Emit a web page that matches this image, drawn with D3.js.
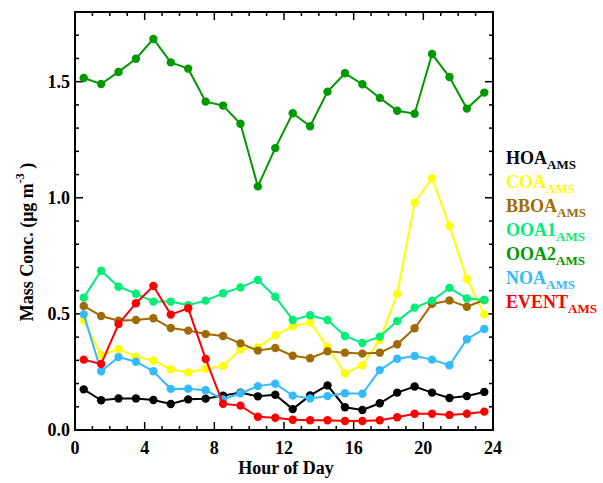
<!DOCTYPE html>
<html>
<head>
<meta charset="utf-8">
<script src="https://cdn.jsdelivr.net/npm/d3@7"></script>
<style>
  body { margin: 0; background: #fff; }
  svg text { font-family: "Liberation Serif", "Times New Roman", serif; font-weight: bold; }
</style>
</head>
<body>
<div id="chart"></div>
<script>
// diurnal profiles, hourly means at hour + 0.5
var hours = d3.range(24).map(function (h) { return h + 0.5; });

var seriesNames = ['HOA', 'COA', 'BBOA', 'OOA1', 'OOA2', 'NOA', 'EVENT'];
var seriesColors = ['#000000', '#ffff00', '#a06a00', '#00ee77', '#009900', '#33bbff', '#ff0000'];

var hoa = [0.175, 0.128, 0.136, 0.136, 0.129, 0.112, 0.132, 0.135, 0.148, 0.161, 0.145, 0.152,
           0.090, 0.149, 0.192, 0.098, 0.086, 0.115, 0.161, 0.187, 0.161, 0.138, 0.146, 0.164];
var coa = [0.472, 0.323, 0.349, 0.316, 0.299, 0.261, 0.248, 0.264, 0.276, 0.347, 0.356, 0.408,
           0.447, 0.464, 0.357, 0.244, 0.279, 0.389, 0.586, 0.979, 1.084, 0.879, 0.650, 0.498];
var bboa = [0.534, 0.491, 0.471, 0.474, 0.481, 0.439, 0.428, 0.413, 0.405, 0.373, 0.342, 0.353,
            0.320, 0.309, 0.339, 0.333, 0.329, 0.333, 0.369, 0.438, 0.543, 0.558, 0.531, 0.560];
var ooa1 = [0.570, 0.686, 0.617, 0.587, 0.553, 0.553, 0.537, 0.557, 0.589, 0.614, 0.646, 0.574,
            0.474, 0.494, 0.474, 0.405, 0.375, 0.402, 0.469, 0.527, 0.557, 0.612, 0.566, 0.560];
var ooa2 = [1.516, 1.490, 1.542, 1.599, 1.684, 1.583, 1.556, 1.414, 1.397, 1.319, 1.049, 1.214,
            1.364, 1.308, 1.457, 1.536, 1.489, 1.430, 1.375, 1.362, 1.619, 1.520, 1.384, 1.453];
var noa = [0.498, 0.253, 0.314, 0.294, 0.253, 0.177, 0.178, 0.171, 0.132, 0.158, 0.189, 0.199,
           0.148, 0.136, 0.146, 0.158, 0.156, 0.258, 0.307, 0.319, 0.303, 0.279, 0.391, 0.435];
var eventAms = [0.303, 0.284, 0.456, 0.546, 0.620, 0.497, 0.524, 0.306, 0.113, 0.105, 0.057, 0.053,
                0.044, 0.042, 0.042, 0.039, 0.039, 0.042, 0.055, 0.070, 0.070, 0.065, 0.070, 0.079];

var xTicks = [0, 4, 8, 12, 16, 20, 24];
var yTicks = [0.0, 0.5, 1.0, 1.5];

var allValues = [hoa, coa, bboa, ooa1, ooa2, noa, eventAms];

var width = 603, height = 483;
var margin = { left: 75, right: 110, top: 12, bottom: 53 };

var svg = d3.select('#chart').append('svg')
  .attr('width', width)
  .attr('height', height);

var x = d3.scaleLinear().domain([0, 24]).range([margin.left, width - margin.right]);
var y = d3.scaleLinear().domain([0, 1.8]).range([height - margin.bottom, margin.top]);

var x0 = x.range()[0], x1 = x.range()[1];
var y0 = y.range()[0], y1 = y.range()[1];

// inward ticks on all four sides
var tickG = svg.append('g').attr('stroke', '#000').attr('stroke-width', 1.5);
d3.range(0, 25, 1).forEach(function (h) {
  var len = h % 4 === 0 ? 8 : 4;
  tickG.append('line').attr('x1', x(h)).attr('x2', x(h)).attr('y1', y0).attr('y2', y0 - len);
  tickG.append('line').attr('x1', x(h)).attr('x2', x(h)).attr('y1', y1).attr('y2', y1 + len);
});
d3.range(0, 19, 1).forEach(function (i) {
  var v = i / 10;
  var len = i % 5 === 0 ? 8 : 4;
  tickG.append('line').attr('x1', x0).attr('x2', x0 + len).attr('y1', y(v)).attr('y2', y(v));
  tickG.append('line').attr('x1', x1).attr('x2', x1 - len).attr('y1', y(v)).attr('y2', y(v));
});

svg.append('rect')
  .attr('x', x0).attr('y', y1)
  .attr('width', x1 - x0).attr('height', y0 - y1)
  .attr('fill', 'none').attr('stroke', '#000').attr('stroke-width', 2);

svg.append('g').selectAll('text').data(xTicks).enter().append('text')
  .attr('x', function (d) { return x(d); })
  .attr('y', y0 + 24)
  .attr('text-anchor', 'middle')
  .attr('font-size', 18)
  .text(function (d) { return d; });

svg.append('g').selectAll('text').data(yTicks).enter().append('text')
  .attr('x', x0 - 5)
  .attr('y', function (d) { return y(d) + 6; })
  .attr('text-anchor', 'end')
  .attr('font-size', 18)
  .text(function (d) { return d.toFixed(1); });

svg.append('text')
  .attr('x', (x0 + x1) / 2 + 2)
  .attr('y', 474)
  .attr('text-anchor', 'middle')
  .attr('font-size', 18)
  .text('Hour of Day');

var yTitle = svg.append('text')
  .attr('transform', 'translate(33,242) rotate(-90)')
  .attr('text-anchor', 'middle')
  .attr('font-size', 18);
yTitle.append('tspan').text('Mass Conc. (\u03bcg m');
yTitle.append('tspan').attr('font-size', 12).attr('dy', -9).text('-3');
yTitle.append('tspan').attr('dy', 9).text(' )');

var line = d3.line()
  .x(function (d) { return x(d[0]); })
  .y(function (d) { return y(d[1]); });

allValues.forEach(function (vals, i) {
  var pts = hours.map(function (h, j) { return [h, vals[j]]; });
  var g = svg.append('g');
  g.append('path')
    .attr('d', line(pts))
    .attr('fill', 'none')
    .attr('stroke', seriesColors[i])
    .attr('stroke-width', 2);
  g.selectAll('circle').data(pts).enter().append('circle')
    .attr('cx', function (d) { return x(d[0]); })
    .attr('cy', function (d) { return y(d[1]); })
    .attr('r', 4.2)
    .attr('fill', seriesColors[i]);
});

// legend
var legend = svg.append('g');
seriesNames.forEach(function (name, i) {
  var t = legend.append('text')
    .attr('x', 506)
    .attr('y', 164 + i * 24)
    .attr('fill', seriesColors[i])
    .attr('font-size', 18);
  t.append('tspan').text(name);
  t.append('tspan').attr('font-size', 13).attr('dy', 5).text('AMS');
});
</script>
</body>
</html>
